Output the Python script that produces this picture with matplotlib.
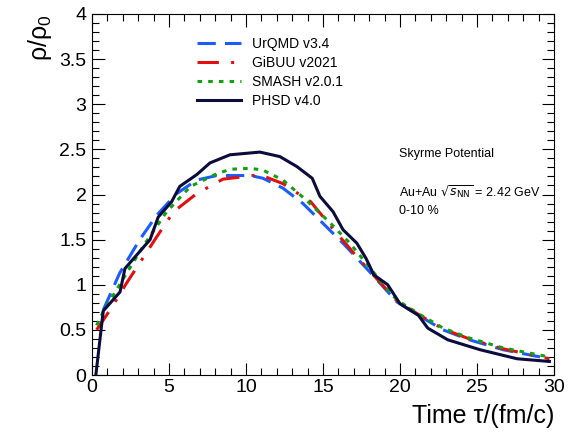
import matplotlib.pyplot as plt
from matplotlib.ticker import MultipleLocator

plt.rcParams['font.family'] = ['Liberation Sans', 'DejaVu Sans']

# UrQMD v3.4
t_urqmd = [0.73, 1.8, 3.1, 4.2, 5.5, 6.8, 8.1, 9.0, 10.3, 11.1, 12.4, 13.7, 15.0, 16.3, 18.05, 19.8, 21.3, 22.8, 24.5, 26.7, 29.7]
rho_urqmd = [0.72, 1.13, 1.50, 1.77, 2.01, 2.16, 2.21, 2.21, 2.21, 2.18, 2.07, 1.90, 1.68, 1.46, 1.14, 0.81, 0.65, 0.50, 0.39, 0.28, 0.18]

# GiBUU v2021
t_gibuu = [0.3, 1.17, 2.25, 4.2, 5.3, 6.8, 8.5, 10.0, 10.9, 12.4, 14.2, 15.7, 17.2, 18.05, 19.8, 21.3, 22.8, 24.5, 26.7, 29.7]
rho_gibuu = [0.50, 0.72, 1.02, 1.53, 1.81, 2.01, 2.17, 2.20, 2.22, 2.12, 1.92, 1.61, 1.31, 1.15, 0.82, 0.66, 0.51, 0.40, 0.29, 0.18]

# SMASH v2.0.1
t_smash = [0.3, 0.73, 2.25, 3.3, 4.85, 6.4, 8.1, 9.0, 10.3, 11.1, 12.4, 13.9, 15.5, 16.75, 18.7, 19.8, 21.3, 22.8, 24.5, 26.7, 29.7]
rho_smash = [0.55, 0.70, 1.13, 1.42, 1.81, 2.09, 2.23, 2.28, 2.29, 2.27, 2.16, 1.94, 1.68, 1.46, 1.05, 0.83, 0.67, 0.52, 0.41, 0.30, 0.20]

# PHSD v4.0
t_phsd = [0.25, 0.73, 1.82, 2.14, 3.77, 4.3, 5.17, 5.7, 6.8, 7.66, 8.96, 10.26, 10.9, 12.2, 13.3, 14.3, 14.8, 15.65, 16.3, 17.2, 17.8, 18.3,
          19.2, 20.0, 21.2, 21.8, 23.1, 25.2, 27.6, 29.7]
rho_phsd = [0.0, 0.71, 0.92, 1.18, 1.50, 1.75, 1.92, 2.09, 2.22, 2.35, 2.44, 2.46, 2.47, 2.42, 2.31, 2.18, 1.98, 1.81, 1.61, 1.46, 1.29, 1.11,
            1.0, 0.79, 0.66, 0.52, 0.39, 0.28, 0.18, 0.15]

fig = plt.figure(figsize=(5.76, 4.33), dpi=100)
ax = fig.add_axes([92 / 576, 58 / 433, 462 / 576, 361 / 433])

ax.plot(t_urqmd, rho_urqmd, color='#1a5cff', lw=2.2, dashes=(6, 3), label='UrQMD v3.4')
ax.plot(t_gibuu, rho_gibuu, color='#e01010', lw=2.2, dashes=(7, 4, 1, 4), label='GiBUU v2021')
ax.plot(t_smash, rho_smash, color='#10a010', lw=2.2, dashes=(1.5, 2.0), label='SMASH v2.0.1')
ax.plot(t_phsd, rho_phsd, color='#0c0c3c', lw=2.2, label='PHSD v4.0')

ax.set_xlim(0, 30)
ax.set_ylim(0, 4)
ax.xaxis.set_major_locator(MultipleLocator(5))
ax.xaxis.set_minor_locator(MultipleLocator(1))
ax.yaxis.set_major_locator(MultipleLocator(0.5))
ax.yaxis.set_minor_locator(MultipleLocator(0.1))
ax.yaxis.set_major_formatter(plt.FuncFormatter(lambda v, p: '%g' % v))
ax.tick_params(which='both', direction='in', top=True, right=True, labelsize=14)
ax.tick_params(axis='x', pad=3)
ax.tick_params(axis='y', pad=4)
ax.tick_params(which='major', length=9, width=0.8)
ax.tick_params(which='minor', length=5, width=0.8)
for s in ax.spines.values():
    s.set_linewidth(0.8)

ax.set_xlabel('Time τ/(fm/c)', fontsize=18, loc='right', labelpad=6)
ax.set_ylabel('ρ/ρ$_\\mathregular{0}$', fontsize=18, loc='top', labelpad=4)

ax.legend(loc='upper left', bbox_to_anchor=(0.2, 0.97), frameon=False, fontsize=10,
          handlelength=3.2, labelspacing=0.35, handletextpad=0.8)

ax.text(0.664, 0.605, 'Skyrme Potential', transform=ax.transAxes, fontsize=9)
ax.text(0.664, 0.49, r'Au+Au $\sqrt{s_{\mathrm{NN}}}$ = 2.42 GeV', transform=ax.transAxes, fontsize=9)
ax.text(0.664, 0.445, '0-10 %', transform=ax.transAxes, fontsize=9)

fig.savefig('out.png', dpi=100)
